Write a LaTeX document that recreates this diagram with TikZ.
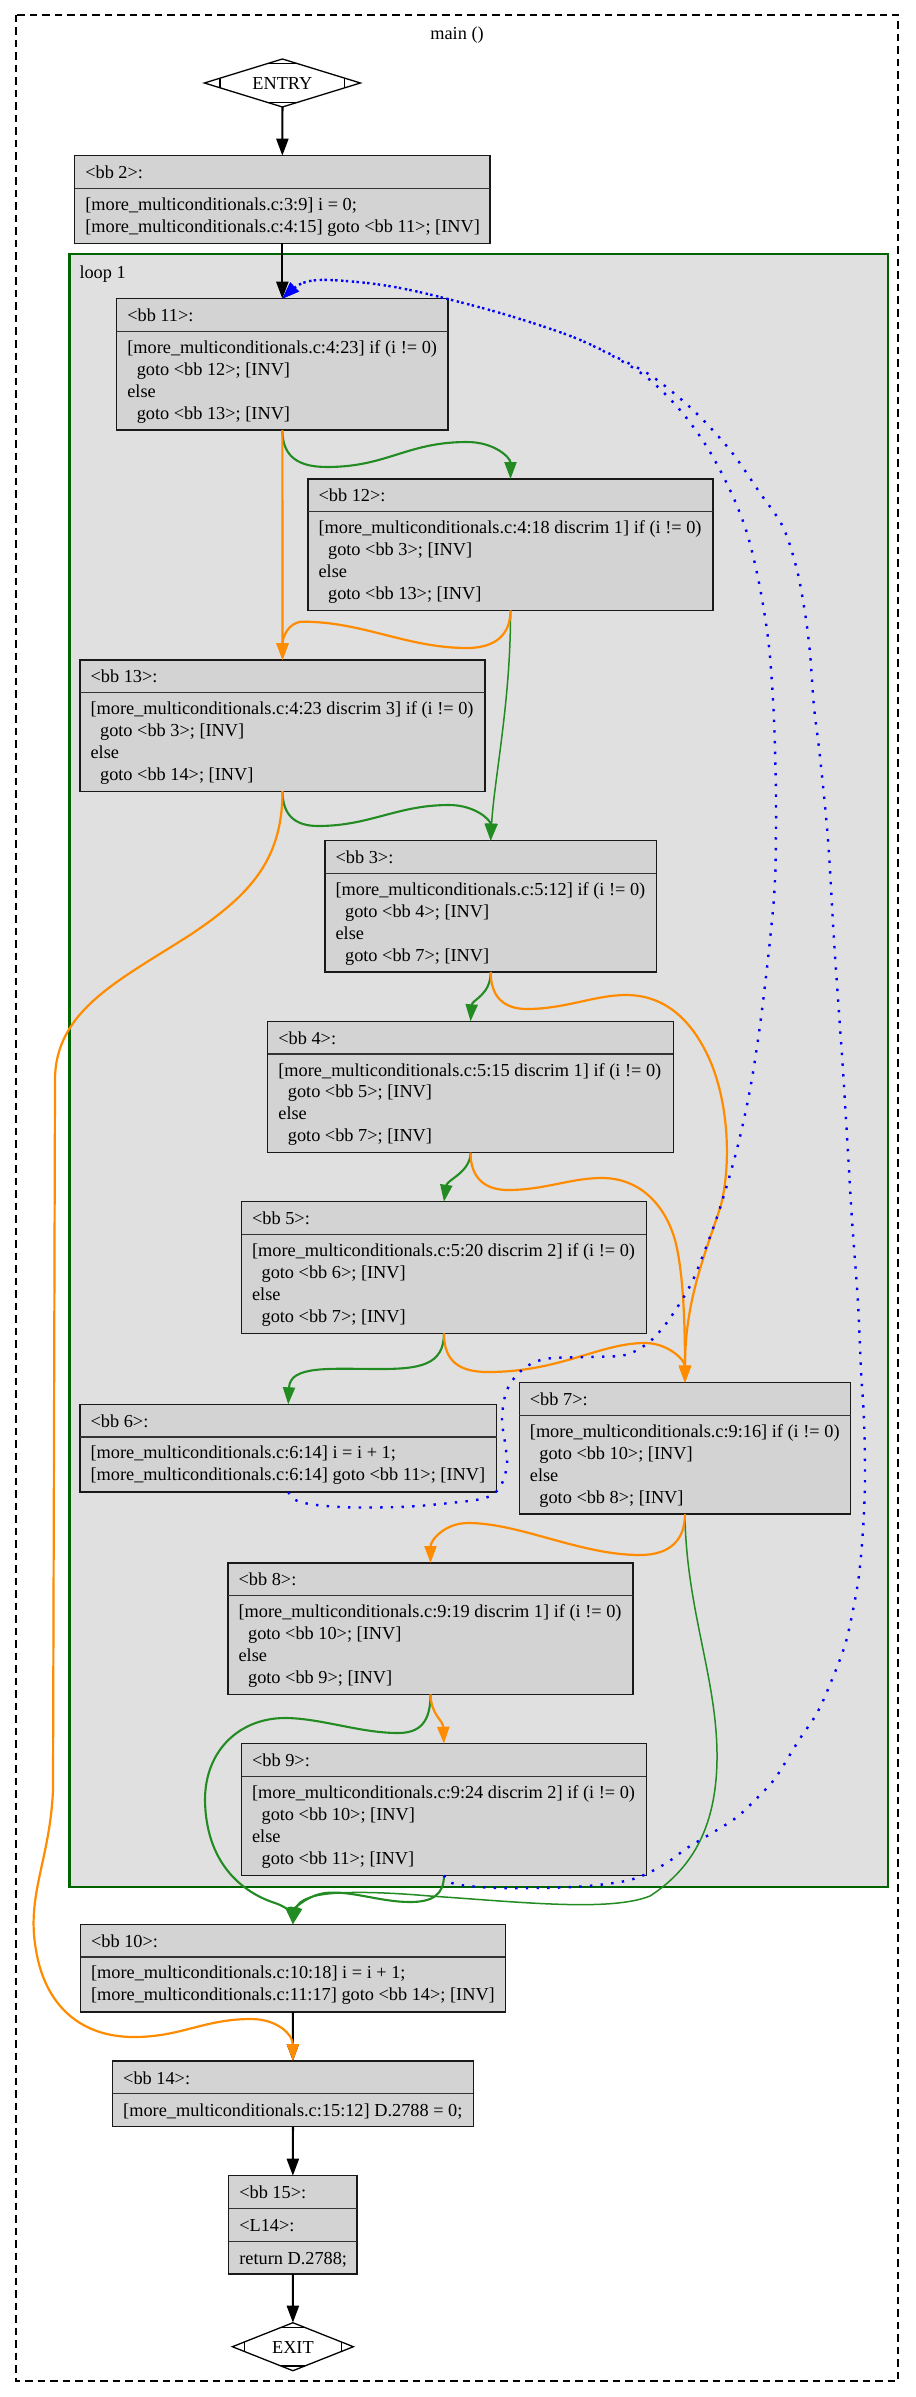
\documentclass[tikz,border=0pt]{standalone}
\usepackage{fontspec}
\setmainfont{Liberation Serif}
\usetikzlibrary{arrows.meta,calc}

\definecolor{forestgreen}{RGB}{34,139,34}
\definecolor{darkorange}{RGB}{255,140,0}
\definecolor{loopgreen}{RGB}{0,100,0}
\definecolor{blockfill}{RGB}{211,211,211}
\definecolor{loopfill}{RGB}{224,224,224}

\newcommand\cfgfont{\fontsize{18.3pt}{21.9pt}\selectfont}
\newcommand\gotoindent{\hspace*{9.5pt}}

\tikzset{
  blockbox/.style={draw=black!90, line width=1.1pt, fill=blockfill, inner sep=0pt, outer sep=0pt},
  sepline/.style={draw=black!80, line width=1.4pt},
  blocktext/.style={anchor=west, align=left, inner sep=0pt, font=\cfgfont,
    execute at begin node=\strut, execute at end node=\strut},
  plainlabel/.style={inner sep=0pt, outer sep=0pt, font=\cfgfont, execute at begin node=\strut},
  arrowend/.style={-{Triangle[length=17pt,width=12pt]}},
  flowedge/.style={arrowend, draw=black, line width=2.2pt},
  trueedge/.style={arrowend, draw=forestgreen, line width=2.1pt},
  thintrue/.style={arrowend, draw=forestgreen, line width=1.5pt},
  falseedge/.style={arrowend, draw=darkorange, line width=2.2pt},
  backedge/.style={arrowend, draw=blue, line width=2.4pt, dash pattern=on 2.4pt off 8.3pt},
  diamondline/.style={draw=black, line width=1.3pt},
}

% one basic block: name, left, top, width, height, header text, body text
\newcommand\cfgblock[7]{%
  \node[blockbox, anchor=north west, minimum width=#4, minimum height=#5] (#1) at (#2,#3) {};
  \draw[sepline] (#2,{#3+32.6}) -- ++(#4,0);
  \node[blocktext] (#1-head) at ({#2+10.4},{#3+18.6}) {#6};
  \node[blocktext] (#1-body) at ({#2+10.4},{#3+(32.6+#5)/2+2.4}) {#7};
}

% Mdiamond: diamond outline with the four corner marks
\newcommand\mdiamond[1]{%
  \draw[diamondline] (#1.north) -- (#1.east) -- (#1.south) -- (#1.west) -- cycle;
  \draw[diamondline] ($(#1.north)!0.2!(#1.west)$) -- ($(#1.north)!0.2!(#1.east)$);
  \draw[diamondline] ($(#1.south)!0.2!(#1.west)$) -- ($(#1.south)!0.2!(#1.east)$);
  \draw[diamondline] ($(#1.west)!0.2!(#1.north)$) -- ($(#1.west)!0.2!(#1.south)$);
  \draw[diamondline] ($(#1.east)!0.2!(#1.north)$) -- ($(#1.east)!0.2!(#1.south)$);
}

\begin{document}
\begin{tikzpicture}[x=1pt,y=-1pt]
\fill[white] (0,0) rectangle (915,2397);
\useasboundingbox (0,0) rectangle (915,2397);

% function cluster
\draw[black, line width=1.2pt, dash pattern=on 7.5pt off 5pt] (16,15) rectangle (898,2381);
\node[plainlabel] (title) at (457,35) {main ()};

% loop cluster
\draw[draw=loopgreen, line width=2.4pt, fill=loopfill] (69.4,254.3) rectangle (888,1886.7);
\node[plainlabel, anchor=west] (looplabel) at (79.5,274) {loop 1};

% entry and exit
\node[plainlabel, minimum width=156pt, minimum height=48pt] (entry) at (282.4,83) {};
\node[plainlabel] (entry-text) at (282.4,85.5) {ENTRY};
\mdiamond{entry}
\node[plainlabel, minimum width=121pt, minimum height=48pt] (exit) at (292.9,2346.7) {};
\node[plainlabel] (exit-text) at (292.9,2349.2) {EXIT};
\mdiamond{exit}

% basic blocks
\cfgblock{bb2}{74.7}{155.7}{415.3}{87.6}{<bb 2>:}
  {[more\_multiconditionals.c:3:9] i = 0;\\{}[more\_multiconditionals.c:4:15] goto <bb 11>; [INV]}
\cfgblock{bb11}{116.7}{298.7}{331.3}{131.3}{<bb 11>:}
  {[more\_multiconditionals.c:4:23] if (i != 0)\\\gotoindent goto <bb 12>; [INV]\\else\\\gotoindent goto <bb 13>; [INV]}
\cfgblock{bb12}{308}{479}{405}{131.3}{<bb 12>:}
  {[more\_multiconditionals.c:4:18 discrim 1] if (i != 0)\\\gotoindent goto <bb 3>; [INV]\\else\\\gotoindent goto <bb 13>; [INV]}
\cfgblock{bb13}{80}{660}{405}{131.1}{<bb 13>:}
  {[more\_multiconditionals.c:4:23 discrim 3] if (i != 0)\\\gotoindent goto <bb 3>; [INV]\\else\\\gotoindent goto <bb 14>; [INV]}
\cfgblock{bb3}{325}{840.7}{331.4}{131.3}{<bb 3>:}
  {[more\_multiconditionals.c:5:12] if (i != 0)\\\gotoindent goto <bb 4>; [INV]\\else\\\gotoindent goto <bb 7>; [INV]}
\cfgblock{bb4}{267.8}{1021.3}{405.5}{131.4}{<bb 4>:}
  {[more\_multiconditionals.c:5:15 discrim 1] if (i != 0)\\\gotoindent goto <bb 5>; [INV]\\else\\\gotoindent goto <bb 7>; [INV]}
\cfgblock{bb5}{241.5}{1201.7}{404.9}{131.6}{<bb 5>:}
  {[more\_multiconditionals.c:5:20 discrim 2] if (i != 0)\\\gotoindent goto <bb 6>; [INV]\\else\\\gotoindent goto <bb 7>; [INV]}
\cfgblock{bb6}{80}{1404.3}{416.5}{87.7}{<bb 6>:}
  {[more\_multiconditionals.c:6:14] i = i + 1;\\{}[more\_multiconditionals.c:6:14] goto <bb 11>; [INV]}
\cfgblock{bb7}{519.3}{1382.7}{331.3}{131.3}{<bb 7>:}
  {[more\_multiconditionals.c:9:16] if (i != 0)\\\gotoindent goto <bb 10>; [INV]\\else\\\gotoindent goto <bb 8>; [INV]}
\cfgblock{bb8}{228}{1563}{405}{131.3}{<bb 8>:}
  {[more\_multiconditionals.c:9:19 discrim 1] if (i != 0)\\\gotoindent goto <bb 10>; [INV]\\else\\\gotoindent goto <bb 9>; [INV]}
\cfgblock{bb9}{241.5}{1743.7}{404.9}{131.6}{<bb 9>:}
  {[more\_multiconditionals.c:9:24 discrim 2] if (i != 0)\\\gotoindent goto <bb 10>; [INV]\\else\\\gotoindent goto <bb 11>; [INV]}
\cfgblock{bb10}{80.5}{1924.3}{424.7}{87.7}{<bb 10>:}
  {[more\_multiconditionals.c:10:18] i = i + 1;\\{}[more\_multiconditionals.c:11:17] goto <bb 14>; [INV]}
\cfgblock{bb14}{112.6}{2061}{360.6}{65.7}{<bb 14>:}
  {[more\_multiconditionals.c:15:12] D.2788 = 0;}

% return block with three rows
\node[blockbox, anchor=north west, minimum width=128.3, minimum height=98.3] (bb15) at (228.7,2175.7) {};
\draw[sepline] (228.7,2208.5) -- ++(128.3,0);
\draw[sepline] (228.7,2241.3) -- ++(128.3,0);
\node[blocktext] (bb15-head) at (239.1,2194.5) {<bb 15>:};
\node[blocktext] (bb15-label) at (239.1,2227.3) {<L14>:};
\node[blocktext] (bb15-body) at (239.1,2260.1) {return D.2788;};

% straight-line flow
\draw[flowedge] (entry.south) -- (bb2.north);
\draw[flowedge] (bb2.south) -- (bb11.north);
\draw[flowedge] (bb10.south) -- (bb14.north);
\draw[flowedge] (bb14.south) -- (bb15.north);
\draw[flowedge] (bb15.south) -- (exit.north);

% true edges
\draw[trueedge] (bb11.south) .. controls (282.35,458) and (300,467) .. (327,467)
  .. controls (387,467) and (407,442) .. (467,442)
  .. controls (495,442) and (510.5,458) .. (bb12.north);
\draw[thintrue] (bb12.south) .. controls (511,700) and (494,780) .. (bb3.north);
\draw[trueedge] (bb13.south) .. controls (282.5,815) and (295,826) .. (318,826)
  .. controls (370,826) and (397,805) .. (449,805)
  .. controls (475,805) and (490.7,820) .. (bb3.north);
\draw[trueedge] (bb3.south) .. controls (490.7,995) and (472,1000) .. (bb4.north);
\draw[trueedge] (bb4.south) .. controls (470.5,1172) and (447,1180) .. (bb5.north);
\draw[trueedge] (bb5.south) .. controls (444,1365) and (420,1369) .. (380,1369)
  .. controls (330,1369) and (290,1365) .. (bb6.north);
\draw[thintrue] (bb7.south) .. controls (686,1610) and (718,1680) .. (717,1760)
  .. controls (716,1830) and (690,1870) .. (650,1896)
  .. controls (610,1912) and (520,1902) .. (430,1896)
  .. controls (360,1890) and (300,1890) .. (bb10.north);
\draw[trueedge] (bb8.south) .. controls (430.5,1722) and (420,1733) .. (398,1733)
  .. controls (360,1733) and (320,1718) .. (285,1718)
  .. controls (240,1718) and (205,1750) .. (205,1800)
  .. controls (206,1870) and (250,1895) .. (275,1903)
  .. controls (287,1907) and (292,1914) .. (bb10.north);
\draw[trueedge] (bb9.south) .. controls (444,1895) and (432,1902) .. (410,1902)
  .. controls (380,1902) and (350,1890) .. (325,1893)
  .. controls (305,1896) and (294,1910) .. (bb10.north);

% false edges
\draw[falseedge] (bb11.south) -- (bb13.north);
\draw[falseedge] (bb12.south) .. controls (510.5,635) and (495,648) .. (467,648)
  .. controls (407,648) and (363,621.7) .. (303,621.7)
  .. controls (288,621.7) and (282.5,638) .. (bb13.north);
\draw[falseedge] (bb13.south) .. controls (282.5,860) and (250,895) .. (190,935)
  .. controls (120,980) and (55,1010) .. (55,1080)
  -- (53,1790)
  .. controls (50,1860) and (26,1895) .. (36,1950)
  .. controls (45,2005) and (80,2037) .. (134,2037)
  .. controls (181,2037) and (204,2019) .. (251,2019)
  .. controls (278,2019) and (292.9,2035) .. (bb14.north);
\draw[falseedge] (bb3.south) .. controls (490.7,998) and (505,1009) .. (527,1009)
  .. controls (565,1009) and (595,995) .. (626,995)
  .. controls (665,995) and (690,1020) .. (706,1052)
  .. controls (728,1095) and (732,1160) .. (721,1205)
  .. controls (705,1255) and (685,1300) .. (bb7.north);
\draw[falseedge] (bb4.south) .. controls (470.5,1178) and (485,1190) .. (508,1190)
  .. controls (545,1190) and (570,1178) .. (602,1178)
  .. controls (640,1178) and (665,1205) .. (675,1240)
  .. controls (683,1270) and (685,1320) .. (bb7.north);
\draw[falseedge] (bb5.south) .. controls (444,1362) and (460,1372) .. (488,1372)
  .. controls (560,1372) and (600,1343) .. (645,1343)
  .. controls (668,1343) and (685,1360) .. (bb7.north);
\draw[falseedge] (bb7.south) .. controls (685,1540) and (670,1555) .. (640,1555)
  .. controls (580,1555) and (520,1523) .. (468,1523)
  .. controls (445,1523) and (430.5,1540) .. (bb8.north);
\draw[falseedge] (bb8.south) .. controls (431,1715) and (443,1720) .. (bb9.north);

% loop back edges
\draw[backedge] plot[smooth, tension=0.55] coordinates {(bb6.south)
  (300,1502) (340,1507) (400,1507) (450,1503) (485,1498) (500,1487) (507,1465)
  (505,1443) (502,1418) (507,1390) (522,1370) (545,1359) (590,1357) (625,1355)
  (648,1343) (665,1325) (680,1303) (693,1280) (705,1250) (716,1220) (727,1185)
  (738,1145) (748,1100) (755,1060) (762,1010) (770,940) (775,880) (776,800)
  (774,720) (770,657) (765,617) (757,573) (746,530) (730,490) (707,447)
  (680,410) (650,380) (620,360) (573,337) (507,315) (440,297) (400,288)
  (367,283) (330,280) (310,281) (297,286) (bb11.north)};
\draw[backedge] plot[smooth, tension=0.55] coordinates {(bb9.south)
  (455,1884) (500,1888) (573,1887) (620,1882) (644,1875) (668,1862) (687,1848)
  (712,1833) (737,1817) (760,1795) (776,1777) (799,1740) (817,1713) (831,1682)
  (845,1645) (853,1610) (859,1575) (863,1530) (865,1480) (864,1420) (861,1370)
  (858,1303) (852,1220) (848,1153) (843,1070) (840,1027) (834,940) (828,840)
  (820,757) (814,707) (810,653) (805,613) (797,570) (783,527) (760,493)
  (730,450) (693,410) (653,377) (620,359) (573,337) (507,315) (440,297)
  (400,288) (367,283) (330,280) (310,281) (297,286) (bb11.north)};
\end{tikzpicture}
\end{document}
